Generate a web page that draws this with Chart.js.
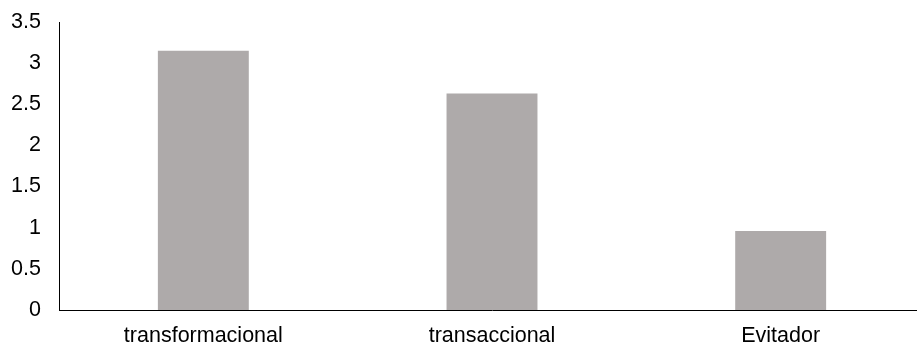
<!DOCTYPE html>
<html>
<head>
<meta charset="utf-8">
<script src="https://cdn.jsdelivr.net/npm/chart.js@4/dist/chart.umd.min.js"></script>
<style>
  html, body { margin: 0; padding: 0; background: #fff; overflow: hidden; }
  #wrap { position: relative; width: 925px; height: 346px; }
</style>
</head>
<body>
<div id="wrap"><canvas id="chart"></canvas></div>
<script>
// Leadership style scores
const categories = ['transformacional', 'transaccional', 'Evitador'];
const scores = [3.15, 2.63, 0.96];
const yTicks = [0, 0.5, 1, 1.5, 2, 2.5, 3, 3.5];

const font = { family: '"Liberation Sans", Arial, sans-serif', size: 21.5 };

new Chart(document.getElementById('chart'), {
  type: 'bar',
  data: {
    labels: categories,
    datasets: [{
      data: scores,
      backgroundColor: '#AEAAAA',
      borderWidth: 0,
      categoryPercentage: 1,
      barPercentage: 0.315
    }]
  },
  options: {
    responsive: true,
    maintainAspectRatio: false,
    animation: false,
    layout: { padding: { top: 22, left: 0, right: 0, bottom: 0 } },
    plugins: { legend: { display: false }, tooltip: { enabled: false } },
    scales: {
      x: {
        grid: { display: false, drawTicks: false },
        border: { display: true, color: '#000', width: 1 },
        ticks: { color: '#000', font: font, padding: 13, maxRotation: 0 },
        afterFit: s => { s.height = 36; }
      },
      y: {
        min: 0,
        max: 3.5,
        grid: { display: false, drawTicks: false },
        border: { display: true, color: '#000', width: 1 },
        afterBuildTicks: s => { s.ticks = yTicks.map(v => ({ value: v })); },
        ticks: { color: '#000', font: font, padding: 18, callback: v => String(v) },
        afterFit: s => { s.width = 59; s.paddingTop = 0; s.paddingBottom = 0; }
      }
    }
  }
});
</script>
</body>
</html>
